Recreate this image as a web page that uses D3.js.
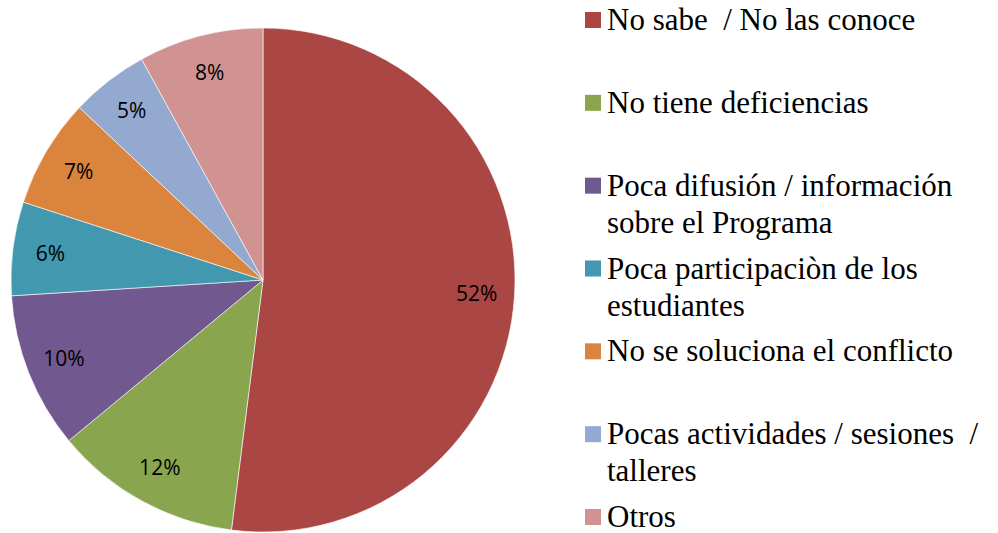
<!DOCTYPE html>
<html>
<head>
<meta charset="utf-8">
<script src="https://cdn.jsdelivr.net/npm/d3@7"></script>
<style>
  body { margin: 0; background: #fff; }
  svg { display: block; }
</style>
</head>
<body>
<svg id="pie-figure" width="998" height="533"></svg>
<script>
// categories and values (percent)
const categories = [
  "No sabe  / No las conoce",
  "No tiene deficiencias",
  "Poca difusión / información sobre el Programa",
  "Poca participaciòn de los estudiantes",
  "No se soluciona el conflicto",
  "Pocas actividades / sesiones  / talleres",
  "Otros"
]
const values = [52, 12, 10, 6, 7, 5, 8]
// legend text as it wraps in the picture
const legendLines = [
  ["No sabe\u00a0 / No las conoce"],
  ["No tiene deficiencias"],
  ["Poca difusión / información", "sobre el Programa"],
  ["Poca participaciòn de los", "estudiantes"],
  ["No se soluciona el conflicto"],
  ["Pocas actividades / sesiones\u00a0 /", "talleres"],
  ["Otros"]
]
const colors = ["#AA4643", "#89A54E", "#71588F", "#4198AF", "#DB843D", "#93A9CF", "#D19392"]

const data = categories.map((c, i) => ({ name: c, value: values[i], lines: legendLines[i] }))

const svg = d3.select("#pie-figure")
const cx = 263
const cy = 280
const radius = 252

const color = d3.scaleOrdinal().domain(categories).range(colors)

// pie starts at 12 o'clock and goes clockwise, keep data order
const pie = d3.pie().value((d) => d.value).sort(null)
const arcs = pie(data)
const arc = d3.arc().innerRadius(0).outerRadius(radius)
const labelArc = d3.arc().innerRadius(radius * 0.85).outerRadius(radius * 0.85)

const g = svg.append("g").attr("transform", `translate(${cx}, ${cy})`)

g.selectAll("path.slice")
  .data(arcs)
  .enter()
  .append("path")
  .attr("class", "slice")
  .attr("d", arc)
  .attr("fill", (d) => color(d.data.name))
  .attr("stroke", "#ffffff")
  .attr("stroke-width", 0.6)

g.selectAll("text.pct")
  .data(arcs)
  .enter()
  .append("text")
  .attr("class", "pct")
  .attr("transform", (d) => `translate(${labelArc.centroid(d)})`)
  .attr("text-anchor", "middle")
  .attr("dy", "0.36em")
  .style("font-family", "Open Sans")
  .style("font-size", "21px")
  .style("fill", "#000")
  .text((d) => d.data.value + "%")

// legend: entries evenly spaced, wrapped lines hang below
const legendY = d3.scaleLinear().domain([0, categories.length - 1]).range([30, 527])
const legend = svg.append("g").attr("class", "legend")

const items = legend
  .selectAll("g.item")
  .data(data)
  .enter()
  .append("g")
  .attr("class", "item")
  .attr("transform", (d, i) => `translate(585, ${legendY(i)})`)

items
  .append("rect")
  .attr("x", 0)
  .attr("y", -18)
  .attr("width", 16)
  .attr("height", 16)
  .attr("fill", (d) => color(d.name))

items
  .append("text")
  .style("font-family", "Liberation Serif")
  .style("font-size", "31px")
  .style("fill", "#000")
  .each(function (d) {
    const t = d3.select(this)
    d.lines.forEach((line, k) => {
      t.append("tspan")
        .attr("x", 22)
        .attr("y", k * 37)
        .text(line)
    })
  })
</script>
</body>
</html>
